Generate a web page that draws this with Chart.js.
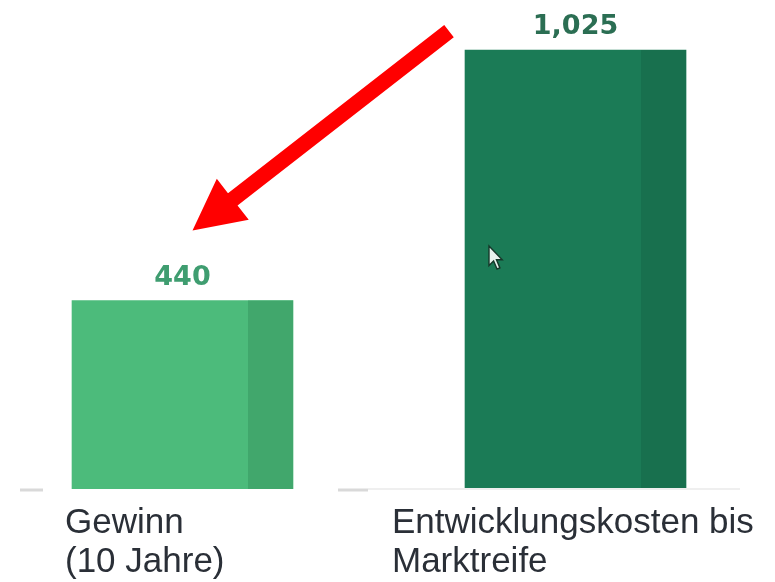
<!DOCTYPE html>
<html lang="de">
<head>
<meta charset="utf-8">
<title>Gewinn vs. Entwicklungskosten</title>
<script src="https://cdn.jsdelivr.net/npm/chart.js@4/dist/chart.umd.min.js"></script>
<style>
  html, body { margin: 0; padding: 0; background: #ffffff; }
  #wrap { width: 775px; height: 582px; position: relative; }
</style>
</head>
<body>
<div id="wrap"><canvas id="chart" width="775" height="582"></canvas></div>
<script>
// Categories (two text lines each) and their values
const categoryLines = [
  ['Gewinn', '(10 Jahre)'],
  ['Entwicklungskosten bis', 'Marktreife']
];
const values = [440, 1025];
const faceColors = ['#4cbb7b', '#1b7b56'];
const sideColors = ['#41a76c', '#18704e'];
const valueColors = ['#3f9d70', '#2b6e53'];

const BAR_WIDTH = 221;
const SIDE_WIDTH = 45;

// Shaded right-hand strip on each bar, plus value labels above
const barDecor = {
  id: 'barDecor',
  afterDatasetsDraw(chart) {
    const ctx = chart.ctx;
    const meta = chart.getDatasetMeta(0);
    meta.data.forEach((bar, i) => {
      const p = bar.getProps(['x', 'y', 'base', 'width'], true);
      const right = p.x + p.width / 2;
      ctx.save();
      ctx.fillStyle = sideColors[i];
      ctx.fillRect(right - SIDE_WIDTH, p.y, SIDE_WIDTH, p.base - p.y);
      ctx.restore();

      ctx.save();
      ctx.filter = 'blur(0.6px)';
      ctx.fillStyle = valueColors[i];
      ctx.font = 'bold 27px "DejaVu Sans", Verdana, sans-serif';
      ctx.textAlign = 'center';
      ctx.textBaseline = 'alphabetic';
      ctx.fillText(values[i].toLocaleString('en-US'), p.x, p.y - 16);
      ctx.restore();
    });
  }
};

// Baseline pieces, category captions, pointer arrow and cursor
const annotations = {
  id: 'annotations',
  afterDraw(chart) {
    const ctx = chart.ctx;
    const meta = chart.getDatasetMeta(0);
    const bars = meta.data.map(b => b.getProps(['x', 'y', 'base', 'width'], true));

    // baseline fragments
    ctx.save();
    ctx.strokeStyle = '#d9d9d9';
    ctx.lineWidth = 3;
    ctx.beginPath();
    ctx.moveTo(20, 490); ctx.lineTo(43, 490);
    ctx.moveTo(338, 490); ctx.lineTo(368, 490);
    ctx.stroke();
    ctx.strokeStyle = '#efefef';
    ctx.lineWidth = 2;
    ctx.beginPath();
    ctx.moveTo(368, 489); ctx.lineTo(740, 489);
    ctx.stroke();
    ctx.restore();

    // category captions
    const captionX = [65, 392];
    ctx.save();
    ctx.fillStyle = '#2a2f37';
    ctx.font = '35px "Liberation Sans", Arial, sans-serif';
    ctx.textAlign = 'left';
    ctx.textBaseline = 'alphabetic';
    categoryLines.forEach((lines, i) => {
      lines.forEach((line, j) => {
        ctx.fillText(line, captionX[i], 533 + j * 39);
      });
    });
    ctx.restore();

    // red arrow pointing from the tall bar to the short bar's label
    const tail = { x: bars[1].x - bars[1].width / 2 - 16, y: bars[1].y - 19 };
    const tip = { x: bars[0].x + 10, y: bars[0].y - 70 };
    const dx = tip.x - tail.x, dy = tip.y - tail.y;
    const len = Math.hypot(dx, dy);
    const ux = dx / len, uy = dy / len;
    const nx = -uy, ny = ux;
    const shaftHalf = 7.8, headHalf = 26, headLen = 51;
    const hb = { x: tip.x - ux * headLen, y: tip.y - uy * headLen };
    ctx.save();
    ctx.fillStyle = '#ff0000';
    ctx.beginPath();
    ctx.moveTo(tail.x + nx * shaftHalf, tail.y + ny * shaftHalf);
    ctx.lineTo(hb.x + nx * shaftHalf, hb.y + ny * shaftHalf);
    ctx.lineTo(hb.x + nx * headHalf, hb.y + ny * headHalf);
    ctx.lineTo(tip.x, tip.y);
    ctx.lineTo(hb.x - nx * headHalf, hb.y - ny * headHalf);
    ctx.lineTo(hb.x - nx * shaftHalf, hb.y - ny * shaftHalf);
    ctx.lineTo(tail.x - nx * shaftHalf, tail.y - ny * shaftHalf);
    ctx.closePath();
    ctx.fill();
    ctx.restore();

    // mouse pointer resting on the tall bar
    const cx = 489, cy = 246, s = 1.15;
    const pts = [[0, 0], [0, 17], [4, 13], [7, 20], [9.5, 19], [6.5, 12], [11.5, 12]];
    ctx.save();
    ctx.filter = 'blur(0.7px)';
    ctx.beginPath();
    pts.forEach(([px, py], k) => {
      const X = cx + px * s, Y = cy + py * s;
      if (k === 0) ctx.moveTo(X, Y); else ctx.lineTo(X, Y);
    });
    ctx.closePath();
    ctx.fillStyle = '#e8f3ee';
    ctx.fill();
    ctx.strokeStyle = '#16382a';
    ctx.lineWidth = 1.4;
    ctx.stroke();
    ctx.restore();
  }
};

new Chart(document.getElementById('chart'), {
  type: 'bar',
  data: {
    datasets: [{
      data: values.map((v, i) => ({ x: i, y: v })),
      backgroundColor: faceColors,
      borderWidth: 0,
      barThickness: BAR_WIDTH
    }]
  },
  options: {
    responsive: false,
    animation: false,
    events: [],
    layout: { padding: { left: 0, right: 0, top: 18, bottom: 93 } },
    plugins: { legend: { display: false }, tooltip: { enabled: false } },
    scales: {
      x: { type: 'linear', display: false, offset: false, bounds: 'data',
           min: -0.4644, max: 1.5076, grid: { display: false } },
      y: { display: false, min: 0, max: 1100, grid: { display: false } }
    }
  },
  plugins: [barDecor, annotations]
});
</script>
</body>
</html>
